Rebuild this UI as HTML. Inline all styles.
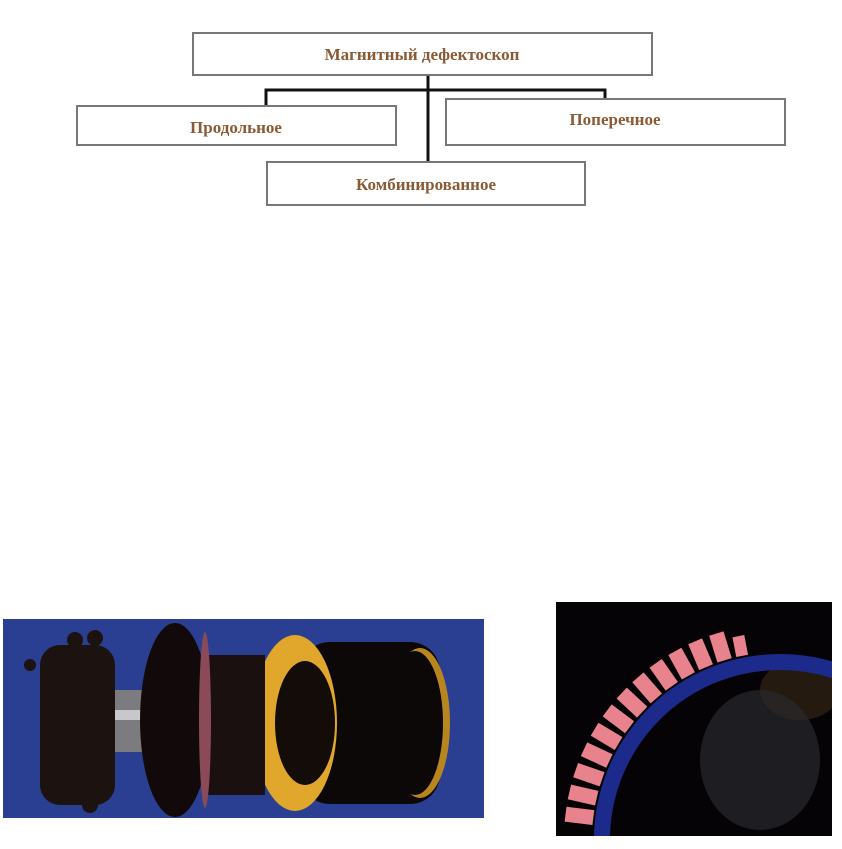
<!DOCTYPE html>
<html><head><meta charset="utf-8"><style>
html,body{margin:0;padding:0;background:#fff;width:842px;height:849px;overflow:hidden;}
svg{display:block;position:absolute;left:0;top:0;}
text{font-family:"Liberation Serif",serif;font-weight:bold;fill:#8a5a34;font-size:17px;}
</style></head><body>
<svg width="842" height="849" viewBox="0 0 842 849">
<defs>
<clipPath id="cl"><rect x="3" y="619" width="481" height="199"/></clipPath>
<clipPath id="cr"><rect x="556" y="602" width="276" height="234"/></clipPath>
</defs>
<g stroke="#111" stroke-width="3" fill="none">
<line x1="428" y1="75" x2="428" y2="163"/>
<polyline points="266,106 266,90 605,90 605,99"/>
</g>
<g fill="#fff" stroke="#777" stroke-width="2">
<rect x="193" y="33" width="459" height="42"/>
<rect x="77" y="106" width="319" height="39"/>
<rect x="446" y="99" width="339" height="46"/>
<rect x="267" y="162" width="318" height="43"/>
</g>
<text x="422" y="60" text-anchor="middle">Магнитный дефектоскоп</text>
<text x="236" y="133" text-anchor="middle">Продольное</text>
<text x="615" y="125" text-anchor="middle">Поперечное</text>
<text x="426" y="190" text-anchor="middle">Комбинированное</text>

<g clip-path="url(#cl)">
<rect x="3" y="619" width="481" height="199" fill="#2b3f92"/>
<rect x="300" y="642" width="140" height="162" rx="30" fill="#0c0808"/>
<ellipse cx="420" cy="723" rx="30" ry="75" fill="#b8861e"/>
<ellipse cx="415" cy="723" rx="28" ry="72" fill="#0c0808"/>
<ellipse cx="295" cy="723" rx="42" ry="88" fill="#e0a72c"/>
<ellipse cx="305" cy="723" rx="30" ry="62" fill="#140c08"/>
<rect x="205" y="655" width="60" height="140" fill="#1a1010"/>
<rect x="110" y="690" width="90" height="62" fill="#7c7c80"/>
<rect x="115" y="710" width="80" height="10" fill="#c8c8cc"/>
<rect x="40" y="645" width="75" height="160" rx="20" fill="#1c1210"/>
<ellipse cx="175" cy="720" rx="35" ry="97" fill="#120a0a"/>
<ellipse cx="205" cy="720" rx="6" ry="88" fill="#8a4a58"/>
<circle cx="75" cy="640" r="8" fill="#1c1210"/>
<circle cx="95" cy="638" r="8" fill="#1c1210"/>
<circle cx="30" cy="665" r="6" fill="#1c1210"/>
<circle cx="90" cy="805" r="8" fill="#1c1210"/>
<circle cx="70" cy="790" r="7" fill="#1c1210"/>
</g>
<g clip-path="url(#cr)">
<rect x="556" y="602" width="276" height="234" fill="#050306"/>
<ellipse cx="800" cy="690" rx="40" ry="30" fill="#3a2a18" opacity="0.6"/>
<circle cx="780" cy="840" r="178" fill="none" stroke="#1c2a8c" stroke-width="16"/>
<ellipse cx="760" cy="760" rx="60" ry="70" fill="#2a2a2e" opacity="0.7"/>
<g fill="#e8838e">
<rect x="188" y="-8" width="28" height="15" transform="translate(780 840) rotate(187)"/>
<rect x="188" y="-8" width="28" height="15" transform="translate(780 840) rotate(193)"/>
<rect x="188" y="-8" width="28" height="15" transform="translate(780 840) rotate(199)"/>
<rect x="188" y="-8" width="28" height="15" transform="translate(780 840) rotate(205)"/>
<rect x="188" y="-8" width="28" height="15" transform="translate(780 840) rotate(211)"/>
<rect x="188" y="-8" width="28" height="15" transform="translate(780 840) rotate(217)"/>
<rect x="188" y="-8" width="28" height="15" transform="translate(780 840) rotate(223)"/>
<rect x="188" y="-8" width="28" height="15" transform="translate(780 840) rotate(229)"/>
<rect x="188" y="-8" width="28" height="15" transform="translate(780 840) rotate(235)"/>
<rect x="188" y="-8" width="28" height="15" transform="translate(780 840) rotate(241)"/>
<rect x="188" y="-8" width="28" height="15" transform="translate(780 840) rotate(247)"/>
<rect x="188" y="-8" width="28" height="15" transform="translate(780 840) rotate(253)"/>
<rect x="188" y="-8" width="20" height="12" transform="translate(780 840) rotate(259)"/>
</g>
</g>
</svg>
</body></html>
